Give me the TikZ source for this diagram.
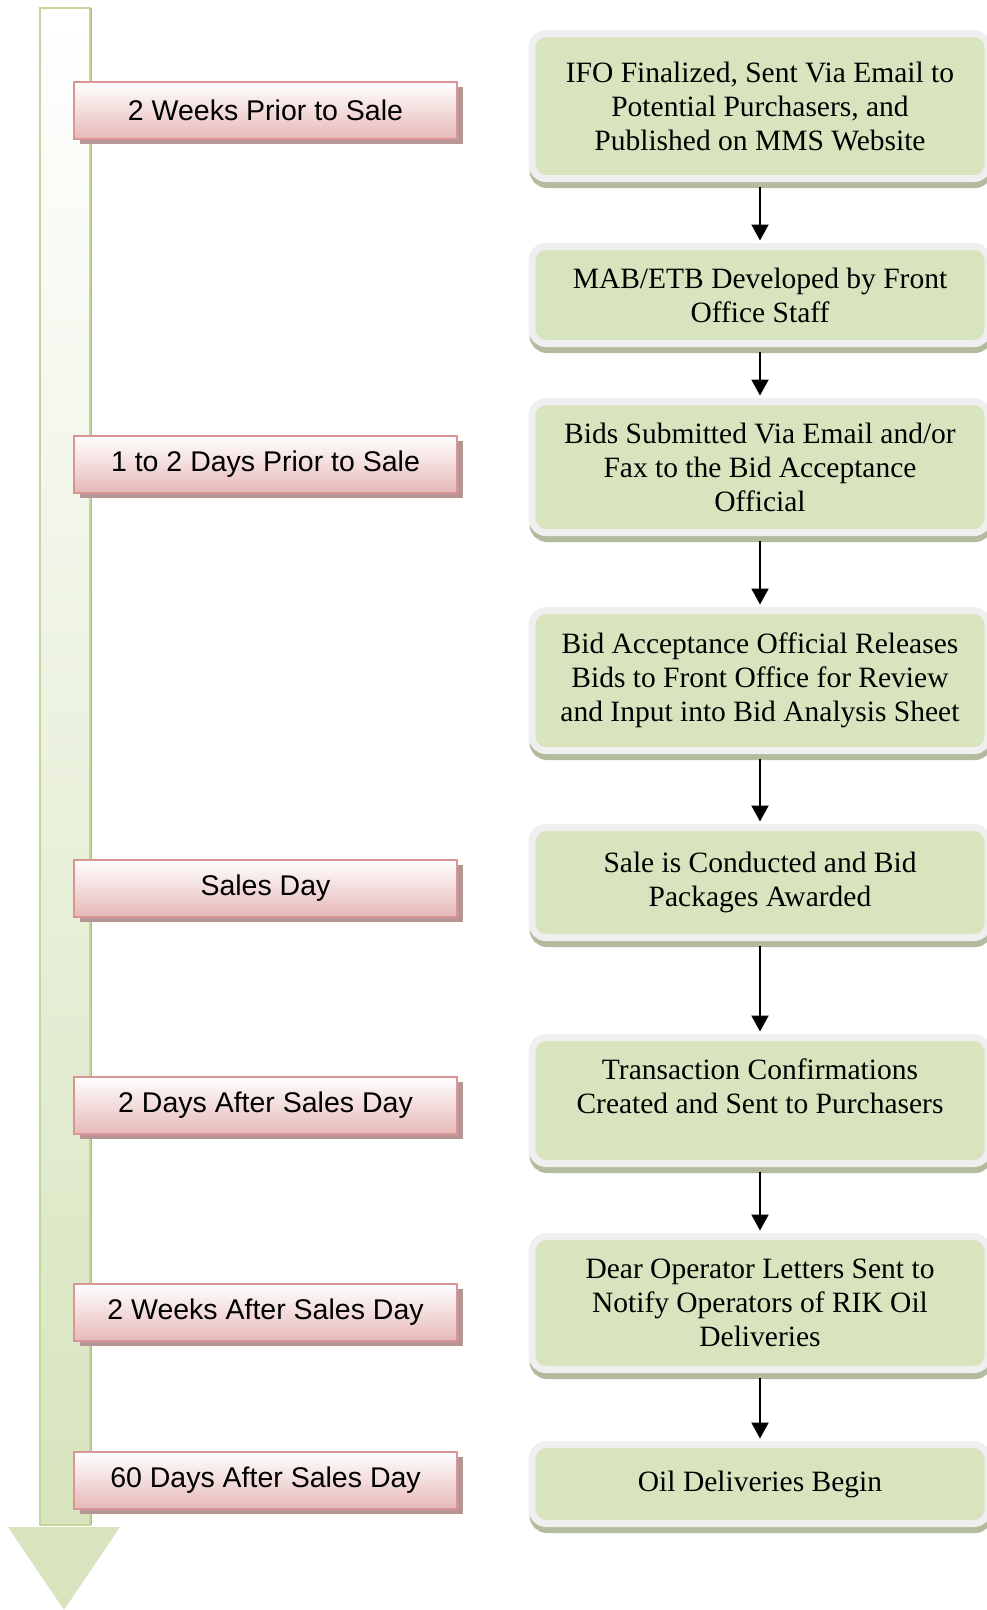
\documentclass[tikz,border=0pt]{standalone}
\usepackage{fontspec}
\setmainfont{Liberation Serif}
\newfontfamily\labelfont{Liberation Sans}
\usetikzlibrary{arrows.meta,positioning,shadows}

\definecolor{stepgreen}{HTML}{D7E4BD}
\definecolor{rimgray}{HTML}{EFEFEF}
\definecolor{stepshadow}{HTML}{B3BB9E}
\definecolor{labelpink}{HTML}{E6B9B8}
\definecolor{labelborder}{HTML}{D99694}
\definecolor{labelshadow}{HTML}{B59595}
\definecolor{shaftborder}{HTML}{C3D69B}
\definecolor{shaftshadow}{HTML}{AEB795}

\tikzset{
  stepbox/.style={rounded corners=14pt, fill=stepgreen, draw=rimgray, line width=7pt,
    minimum width=456pt, inner sep=0pt, outer sep=0pt, align=center,
    font=\fontsize{29.5}{34}\selectfont,
    drop shadow={shadow xshift=1pt, shadow yshift=-6pt, fill=stepshadow,
      draw=stepshadow, line width=7pt, opacity=1}},
  timebox/.style={draw=labelborder, line width=2pt, top color=white, bottom color=labelpink,
    minimum width=383pt, minimum height=57pt, inner sep=0pt, outer sep=0pt,
    font=\labelfont\fontsize{28.5}{34}\selectfont,
    drop shadow={shadow xshift=6pt, shadow yshift=-5pt, fill=labelshadow, opacity=1}},
  flow/.style={-{Triangle[length=16pt,width=17pt]}, line width=2pt,
    shorten <=8pt, shorten >=6pt}
}

\begin{document}
\begin{tikzpicture}
\useasboundingbox (0,0) rectangle (987pt,-1610pt);

% timeline arrow
\path[drop shadow={shadow xshift=2pt, shadow yshift=0pt, fill=shaftshadow, opacity=1},
  top color=white, bottom color=stepgreen, draw=shaftborder, line width=2.5pt]
  (40pt,-8pt) rectangle (90pt,-1525pt);
\fill[stepgreen] (8pt,-1527pt) -- (120pt,-1527pt) -- (64pt,-1610pt) -- cycle;

% process steps
\node[stepbox, minimum height=145pt] (ifo) at (760pt,-106pt) {IFO Finalized, Sent Via Email to\\Potential Purchasers, and\\Published on MMS Website};
\node[stepbox, minimum height=97pt, below=68pt of ifo] (mab) {MAB/ETB Developed by Front\\Office Staff};
\node[stepbox, minimum height=131pt, below=58pt of mab] (bids) {Bids Submitted Via Email and/or\\Fax to the Bid Acceptance\\Official};
\node[stepbox, minimum height=140pt, below=78pt of bids] (release) {Bid Acceptance Official Releases\\Bids to Front Office for Review\\and Input into Bid Analysis Sheet};
\node[stepbox, minimum height=110pt, below=77pt of release] (award) {Sale is Conducted and Bid\\Packages Awarded};
\node[stepbox, minimum height=126pt, text depth=28pt, below=100pt of award] (confirm) {Transaction Confirmations\\Created and Sent to Purchasers};
\node[stepbox, minimum height=133pt, below=73pt of confirm] (letters) {Dear Operator Letters Sent to\\Notify Operators of RIK Oil\\Deliveries};
\node[stepbox, minimum height=79pt, below=75pt of letters] (oil) {Oil Deliveries Begin};

% timing labels
\node[timebox, left=75pt of ifo, yshift=-4.5pt] (twoweeksprior) {2 Weeks Prior to Sale};
\node[timebox, left=75pt of bids, yshift=3pt] (daysprior) {1 to 2 Days Prior to Sale};
\node[timebox, left=75pt of award, yshift=-5.5pt] (salesday) {Sales Day};
\node[timebox, left=75pt of confirm, yshift=-4.5pt] (twodaysafter) {2 Days After Sales Day};
\node[timebox, left=75pt of letters, yshift=-9.5pt] (twoweeksafter) {2 Weeks After Sales Day};
\node[timebox, left=75pt of oil, yshift=3.5pt] (sixtydaysafter) {60 Days After Sales Day};

\draw[flow] (ifo) -- (mab);
\draw[flow] (mab) -- (bids);
\draw[flow] (bids) -- (release);
\draw[flow] (release) -- (award);
\draw[flow] (award) -- (confirm);
\draw[flow] (confirm) -- (letters);
\draw[flow] (letters) -- (oil);
\end{tikzpicture}
\end{document}
